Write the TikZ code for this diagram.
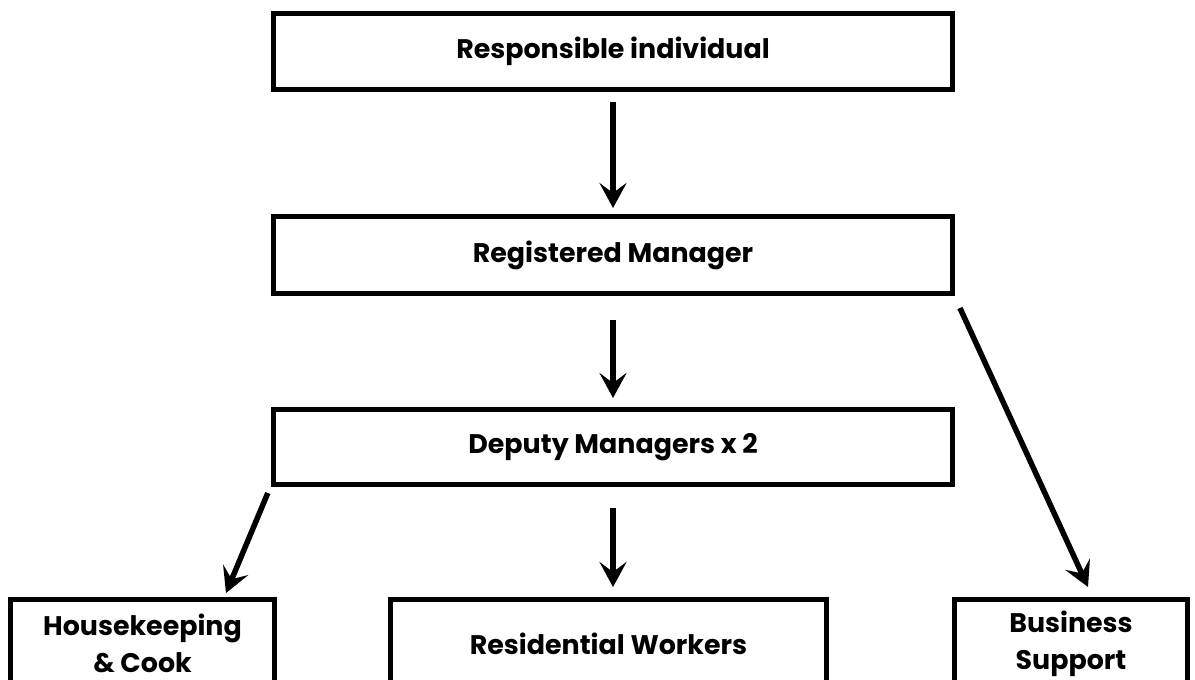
\documentclass[tikz,border=0pt]{standalone}
\usepackage{fontspec}
\setmainfont{Poppins}
\usetikzlibrary{arrows.meta}

\begin{document}
\begin{tikzpicture}[x=0.02cm,y=-0.02cm,
    post/.style={draw,line width=0.1cm,inner sep=0pt,align=center,
      font=\bfseries\fontsize{15.3}{21}\selectfont},
    arr/.style={line width=0.11cm,-{Stealth[length=0.5cm,width=0.54cm,inset=0.2cm]}}]
	\useasboundingbox (0,0) rectangle (1195,679);
	\clip (0,0) rectangle (1195,679);

	\node[post,minimum width=13.58cm,minimum height=1.52cm] (ri) at (613,51.5) {Responsible individual};
	\node[post,minimum width=13.58cm,minimum height=1.54cm] (rm) at (613,255) {Registered Manager};
	\node[post,minimum width=13.59cm,minimum height=1.5cm] (dm) at (613,447) {Deputy Managers x 2};

	\node[post,minimum width=5.28cm,minimum height=1.76cm] (hk) at (142.5,643.5) {Housekeeping\\\& Cook};
	\node[post,minimum width=8.72cm,minimum height=1.76cm] (rw) at (608.5,643.5) {Residential Workers};
	\node[post,minimum width=4.66cm,minimum height=1.76cm] (bs) at (1071,643.5) {Business\\Support};

	\draw[arr,shorten <=0.2cm,shorten >=0.12cm] (ri.south) -- (rm.north);
	\draw[arr,shorten <=0.48cm,shorten >=0.18cm] (rm.south) -- (dm.north);
	\draw[arr,shorten <=0.42cm,shorten >=0.2cm] (dm.south) -- (dm.south |- rw.north);
	\draw[arr] ([shift={(-3,6)}]dm.south west) -- ([shift={(-51,-4)}]hk.north east);
	\draw[arr] ([shift={(5,12)}]rm.south east) -- ([shift={(17,-10)}]bs.north);
\end{tikzpicture}
\end{document}
